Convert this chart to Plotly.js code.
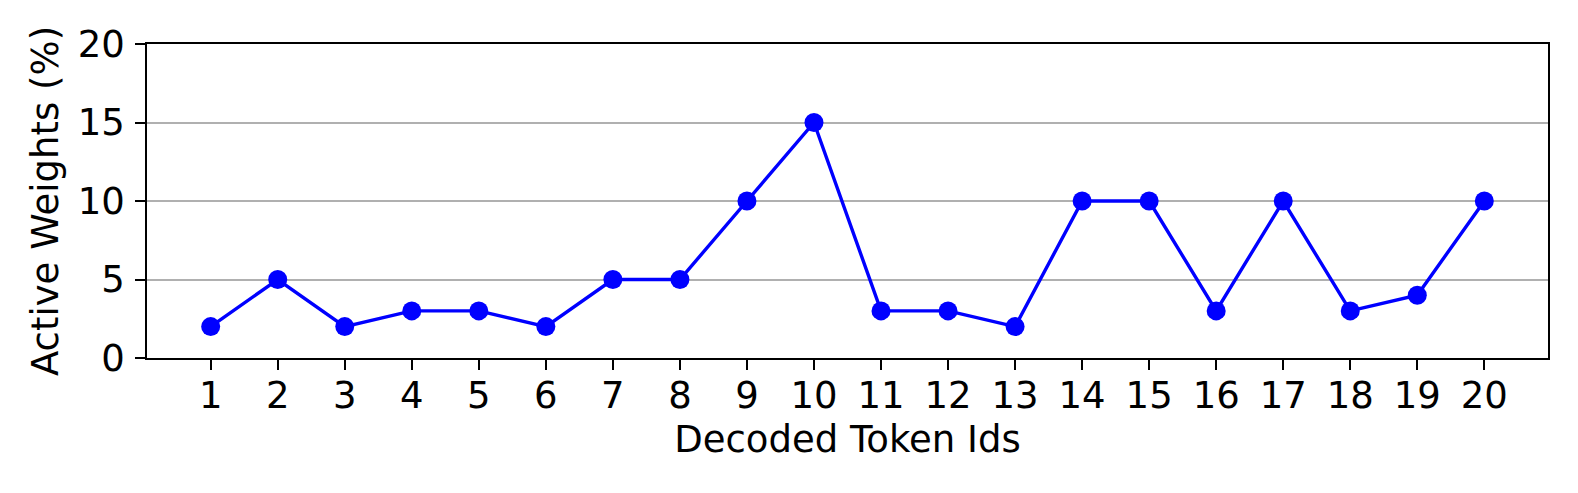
<!DOCTYPE html>
<html>
<head>
<meta charset="utf-8">
<script src="https://cdn.plot.ly/plotly-3.0.1.min.js"></script>
<style>
  html, body { margin: 0; padding: 0; background: #fff; }
  #chart { width: 1578px; height: 493px; }
</style>
</head>
<body>
<div id="chart"></div>
<script>
// Dados do gráfico
const tokenIds = [1, 2, 3, 4, 5, 6, 7, 8, 9, 10, 11, 12, 13, 14, 15, 16, 17, 18, 19, 20];
const activeWeights = [2, 5, 2, 3, 3, 2, 5, 5, 10, 15, 3, 3, 2, 10, 10, 3, 10, 3, 4, 10];
const yTicks = [0, 5, 10, 15, 20];

const fontFamily = 'DejaVu Sans, sans-serif';
const fontSize = 37;

const trace = {
    x: tokenIds,
    y: activeWeights,
    type: 'scatter',
    mode: 'lines+markers',
    line: { color: '#0000ff', width: 3.4 },
    marker: { color: '#0000ff', size: 19 },
    cliponaxis: false
};

const layout = {
    width: 1578,
    height: 493,
    paper_bgcolor: '#ffffff',
    plot_bgcolor: '#ffffff',
    showlegend: false,
    margin: { l: 147, r: 30, t: 44, b: 135 },
    font: { family: fontFamily, size: fontSize, color: '#000000' },
    xaxis: {
        range: [0.05, 20.95],
        tickvals: tokenIds,
        ticktext: tokenIds.map(String),
        ticks: 'outside',
        ticklen: 10,
        tickwidth: 1.6,
        tickcolor: '#000000',
        ticklabelstandoff: -6,
        showgrid: false,
        zeroline: false,
        showline: true,
        linecolor: '#000000',
        linewidth: 1.6,
        mirror: true,
        tickfont: { family: fontFamily, size: fontSize },
        title: { text: 'Decoded Token Ids', font: { family: fontFamily, size: fontSize }, standoff: 10 }
    },
    yaxis: {
        range: [0, 20],
        tickvals: yTicks,
        ticks: 'outside',
        ticklen: 10,
        tickwidth: 1.6,
        tickcolor: '#000000',
        ticklabelstandoff: 3,
        showgrid: true,
        gridcolor: '#b0b0b0',
        gridwidth: 1.6,
        zeroline: false,
        showline: true,
        linecolor: '#000000',
        linewidth: 1.6,
        mirror: true,
        tickfont: { family: fontFamily, size: fontSize },
        title: { text: 'Active Weights (%)', font: { family: fontFamily, size: fontSize }, standoff: 8 }
    }
};

Plotly.newPlot('chart', [trace], layout, { displayModeBar: false, responsive: false });
</script>
</body>
</html>
